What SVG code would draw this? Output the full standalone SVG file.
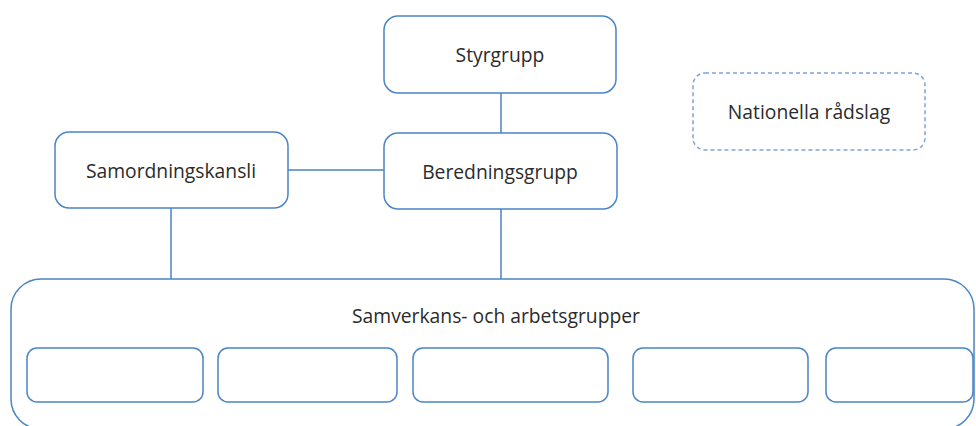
<svg xmlns="http://www.w3.org/2000/svg" width="976" height="426" viewBox="0 0 976 426">
<style>
.box{fill:#fff;stroke:#4a85c6;stroke-width:1.5}
.dash{fill:#fff;stroke:#7ea3d6;stroke-width:1.5;stroke-dasharray:4 3}
.lbl{font-family:"Open Sans","Liberation Sans",sans-serif;font-size:19.3px;fill:#2b2b2b;text-anchor:middle;dominant-baseline:central}
.conn{stroke:#4a85c6;stroke-width:1.5;fill:none}
</style>
<rect width="976" height="426" fill="#fff"/>
<g id="connectors">
<line class="conn" x1="501" y1="92" x2="501" y2="133"/>
<line class="conn" x1="288" y1="170" x2="384" y2="170"/>
<line class="conn" x1="171" y1="208" x2="171" y2="279"/>
<line class="conn" x1="501" y1="209" x2="501" y2="279"/>
</g>
<g id="samverkan">
<rect class="box" x="11" y="279" width="963" height="150" rx="30"/>
<text class="lbl" x="496" y="315">Samverkans- och arbetsgrupper</text>
</g>
<g id="grupp1"><rect class="box" x="27" y="348" width="176" height="54" rx="10"/></g>
<g id="grupp2"><rect class="box" x="218" y="348" width="179" height="54" rx="10"/></g>
<g id="grupp3"><rect class="box" x="413" y="348" width="195" height="54" rx="10"/></g>
<g id="grupp4"><rect class="box" x="633" y="348" width="175" height="54" rx="10"/></g>
<g id="grupp5"><rect class="box" x="826" y="348" width="147" height="54" rx="10"/></g>
<g id="styrgrupp">
<rect class="box" x="384" y="16" width="232" height="77" rx="14"/>
<text class="lbl" x="500" y="54">Styrgrupp</text>
</g>
<g id="beredningsgrupp">
<rect class="box" x="384" y="133" width="233" height="76" rx="14"/>
<text class="lbl" x="500" y="171">Beredningsgrupp</text>
</g>
<g id="samordningskansli">
<rect class="box" x="55" y="132" width="233" height="76" rx="14"/>
<text class="lbl" x="171" y="170">Samordningskansli</text>
</g>
<g id="nationella">
<rect class="dash" x="693" y="73" width="232" height="77" rx="12"/>
<text class="lbl" x="809" y="111">Nationella rådslag</text>
</g>
</svg>
